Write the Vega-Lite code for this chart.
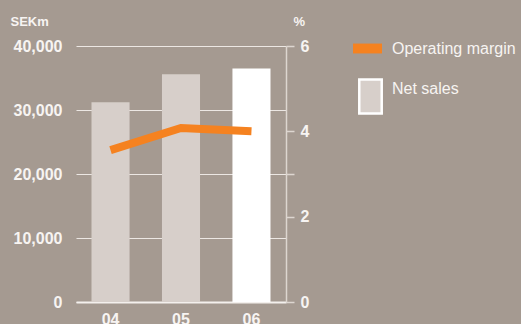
{
  "$schema": "https://vega.github.io/schema/vega-lite/v6.json",
  "width": 210,
  "height": 256,
  "autosize": {"type": "none"},
  "padding": {"left": 76, "top": 46, "right": 235, "bottom": 22},
  "background": "#a59a91",
  "config": {
    "view": {"stroke": null},
    "font": "Liberation Sans",
    "axis": {"labelColor": "#f7f4f2", "titleColor": "#f7f4f2", "labelFont": "Liberation Sans", "titleFont": "Liberation Sans"}
  },
  "data": {
    "values": [
      {"year": "04", "sales": 31200, "margin": 3.56},
      {"year": "05", "sales": 35600, "margin": 4.08},
      {"year": "06", "sales": 36500, "margin": 4.0}
    ]
  },
  "encoding": {
    "x": {
      "field": "year", "type": "ordinal",
      "scale": {"paddingInner": 0.46, "paddingOuter": 0.22},
      "axis": {"title": null, "labelAngle": 0, "labelFontSize": 16, "labelFontWeight": "bold", "ticks": false, "labelPadding": 9, "domainColor": "#f4f0ed", "domainWidth": 2, "grid": false}
    }
  },
  "layer": [
    {
      "mark": {"type": "bar"},
      "encoding": {
        "y": {
          "field": "sales", "type": "quantitative",
          "scale": {"domain": [0, 40000]},
          "axis": {"values": [0, 10000, 20000, 30000, 40000], "format": ",.0f", "labelFontSize": 16, "labelFontWeight": "bold", "labelPadding": 14, "ticks": false, "domain": false, "grid": true, "gridColor": "#ece7e3", "gridWidth": 1.2, "gridOpacity": 1, "title": "SEKm", "titleAngle": 0, "titleAlign": "left", "titleBaseline": "middle", "titleX": -66, "titleY": -25, "titleFontSize": 13, "titleFontWeight": "bold"}
        },
        "fill": {
          "datum": "Net sales",
          "scale": {"domain": ["Net sales"], "range": ["#d7cfca"]},
          "condition": {"test": "datum.year === '06'", "value": "#ffffff"},
          "legend": {
            "title": null, "orient": "none", "legendX": 276, "legendY": 32,
            "symbolType": "M-0.66,-1H0.66V1H-0.66Z", "symbolSize": 1156,
            "symbolStrokeColor": "#ffffff", "symbolStrokeWidth": 2.5,
            "labelFontSize": 16, "labelColor": "#f7f4f2", "labelFont": "Liberation Sans", "labelBaseline": "bottom", "labelOffset": 3,
            "encode": {"symbols": {"update": {"stroke": {"value": "#ffffff"}, "strokeWidth": {"value": 2.5}, "fill": {"value": "#d7cfca"}, "opacity": {"value": 1}}}}
          }
        }
      }
    },
    {
      "mark": {"type": "line", "strokeWidth": 8, "strokeCap": "butt", "strokeJoin": "miter"},
      "encoding": {
        "y": {
          "field": "margin", "type": "quantitative",
          "scale": {"domain": [0, 6]},
          "axis": {"orient": "right", "values": [0, 2, 3, 4, 6], "labelExpr": "datum.value == 3 ? '' : datum.label", "labelFontSize": 16, "labelFontWeight": "bold", "labelPadding": 6, "tickSize": 8, "tickColor": "#ddd6d0", "tickWidth": 1.5, "domain": true, "domainColor": "#ddd6d0", "domainWidth": 1.5, "grid": false, "title": "%", "titleAngle": 0, "titleAlign": "left", "titleBaseline": "middle", "titleX": 7, "titleY": -25, "titleFontSize": 13, "titleFontWeight": "bold"}
        },
        "stroke": {
          "datum": "Operating margin",
          "scale": {"domain": ["Operating margin"], "range": ["#f58220"]},
          "legend": {
            "title": null, "orient": "none", "legendX": 277, "legendY": -12,
            "symbolType": "M-1,-0.34H1V0.34H-1Z", "symbolSize": 841,
            "labelFontSize": 16, "labelColor": "#f7f4f2", "labelFont": "Liberation Sans", "labelOffset": 10,
            "encode": {"symbols": {"update": {"fill": {"value": "#f58220"}, "strokeWidth": {"value": 0}, "opacity": {"value": 1}}}}
          }
        }
      }
    }
  ],
  "resolve": {"scale": {"y": "independent", "fill": "independent", "stroke": "independent"}}
}
